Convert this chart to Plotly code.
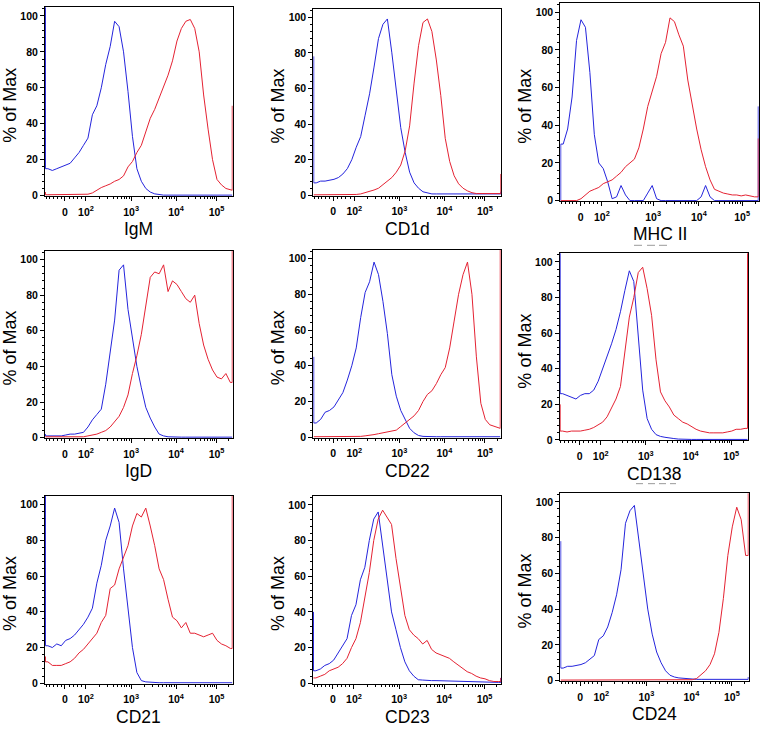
import math
import plotly.graph_objects as go

# ---------------- data (display units: decade-like biexponential axis) ----------------
MARKERS = ["IgM", "CD1d", "MHC II", "IgD", "CD22", "CD138", "CD21", "CD23", "CD24"]

BINS = [1.2, 1.3, 1.4, 1.5, 1.6, 1.7, 1.8, 1.9,
        2.0, 2.1, 2.2, 2.3, 2.4, 2.5, 2.6, 2.7, 2.8, 2.9,
        3.0, 3.1, 3.2, 3.3, 3.4, 3.5, 3.6, 3.7, 3.8, 3.9,
        4.0, 4.1, 4.2, 4.3, 4.4, 4.5, 4.6, 4.7, 4.8, 4.9,
        5.0, 5.1, 5.2, 5.3]
BINS_MHC = BINS + [5.4, 5.5]

TICK_TEXT = ["0", "10<sup>2</sup>", "10<sup>3</sup>", "10<sup>4</sup>", "10<sup>5</sup>"]
TICK_POS_STD = [1.584, 2.056, 3.07, 4.08, 4.99]
TICK_POS_MHC = [1.59, 2.07, 3.22, 4.25, 5.22]
Y_TICKS = [0, 20, 40, 60, 80, 100]

# values on BINS; edge values = [first (off-scale low) bin, last (off-scale high) bin]
IGM_BLUE = [15, 14, 15, 16, 17, 18, 21, 24,
            28, 32, 45, 50, 60, 73, 83, 97, 94, 80,
            58, 33, 15, 8, 4, 2, 1, 0.5, 0.3, 0.3,
            0.3, 0.3, 0.3, 0.3, 0.3, 0.3, 0.3, 0.3, 0.3, 0.3,
            0.3, 0.3, 0.3, 0.3]
IGM_BLUE_EDGE = [105, 0.3]
IGM_RED = [0.5, 0.5, 0.5, 0.5, 0.5, 0.5, 0.5, 0.5,
           0.5, 0.8, 1.5, 3, 4.5, 5.5, 6.5, 8, 9, 11,
           16, 19, 24, 28, 36, 43, 48, 54, 61, 67,
           75, 86, 93, 97, 98, 93, 80, 56, 37, 20,
           9, 6, 4, 3]
IGM_RED_EDGE = [2, 50]

CD1D_BLUE = [7, 8, 8, 8.5, 9, 10, 12, 15,
             20, 27, 33, 45, 57, 72, 88, 96, 99, 80,
             60, 38, 24, 13, 7, 4, 2, 1.2, 0.8, 0.8,
             0.8, 0.8, 0.8, 0.8, 0.8, 0.8, 0.8, 0.8, 0.8, 0.8,
             0.8, 0.8, 0.8, 0.8]
CD1D_BLUE_EDGE = [78, 2]
CD1D_RED = [0.3, 0.3, 0.3, 0.3, 0.3, 0.3, 0.3, 0.3,
            0.3, 0.5, 0.8, 1.5, 2, 3, 4, 6, 8, 10,
            13, 17, 25, 39, 63, 84, 97, 99, 92, 76,
            56, 32, 19, 11, 6.5, 4, 2.5, 1.5, 1, 1,
            1, 1, 1, 1]
CD1D_RED_EDGE = [0.3, 12]

MHC_BLUE = [30, 38, 55, 85, 96, 92, 68, 35,
            20, 17, 10, 1, 2, 8, 3, 0, 0, 0,
            0, 4, 8, 1, 0, 0, 0, 0, 0, 0,
            0, 0, 0, 2, 8, 2, 0, 0, 0, 0,
            0, 0, 0, 0, 0, 0]
MHC_BLUE_EDGE = [0, 50]
MHC_RED = [0, 0, 0, 0, 1, 3, 5, 6,
           7, 9, 10, 11, 13, 15, 18, 20, 22, 28,
           38, 50, 58, 66, 78, 84, 97, 95, 88, 82,
           64, 50, 38, 27, 18, 11, 6, 5, 4, 3.5,
           3, 3, 2.5, 3, 2.5, 2]
MHC_RED_EDGE = [0, 33]

IGD_BLUE = [1, 1, 1, 1, 1.5, 2, 2, 2.5,
            3, 6, 10, 13, 16, 30, 48, 66, 94, 97,
            72, 55, 40, 28, 17, 11, 6, 2, 1, 0.5,
            0.3, 0.3, 0.3, 0.3, 0.3, 0.3, 0.3, 0.3, 0.3, 0.3,
            0.3, 0.3, 0.3, 0.3]
IGD_BLUE_EDGE = [2, 0.3]
IGD_RED = [0.5, 0.5, 0.5, 0.5, 0.5, 0.5, 0.5, 0.5,
           0.5, 1, 1.5, 2, 3, 4, 6, 9, 12, 17,
           24, 36, 46, 58, 75, 90, 93, 92, 97, 82,
           88, 86, 82, 78, 76, 80, 64, 52, 44, 38,
           34, 33, 36, 31]
IGD_RED_EDGE = [0.5, 105]

CD22_BLUE = [8, 10, 14, 15, 17, 21, 25, 32,
             40, 50, 67, 81, 87, 98, 91, 76, 58, 35,
             23, 15, 10, 5, 2.5, 1, 0.5, 0.3, 0.3, 0.3,
             0.3, 0.3, 0.3, 0.3, 0.3, 0.3, 0.3, 0.3, 0.3, 0.3,
             0.3, 0.3, 0.3, 0.3]
CD22_BLUE_EDGE = [45, 0.3]
CD22_RED = [0.3, 0.3, 0.3, 0.3, 0.3, 0.3, 0.3, 0.3,
            0.3, 0.3, 0.5, 0.8, 1, 1.5, 2, 2.5, 3, 3.5,
            4, 6, 8, 10, 12, 15, 20, 24, 26, 30,
            35, 39, 50, 65, 80, 91, 98, 80, 45, 19,
            10, 7, 6, 5]
CD22_RED_EDGE = [0.3, 105]

CD138_BLUE = [26, 25, 24, 23, 25, 26, 26, 28,
              33, 40, 46, 54, 62, 72, 84, 95, 89, 56,
              28, 12, 6, 3, 2, 1.5, 1, 0.8, 0.5, 0.3,
              0.3, 0.3, 0.3, 0.3, 0.3, 0.3, 0.3, 0.3, 0.3, 0.3,
              0.3, 0.3, 0.3, 0.3]
CD138_BLUE_EDGE = [105, 0.3]
CD138_RED = [5, 4.5, 5, 5, 5, 5.5, 6, 7,
             8.5, 10, 13, 18, 23, 30, 50, 69, 80, 94,
             97, 85, 70, 45, 27, 22, 18.5, 14, 12, 10,
             9, 7.5, 6, 5, 4.5, 4, 4, 4, 4, 4.5,
             5, 6, 6, 6.5]
CD138_RED_EDGE = [20, 105]

CD21_BLUE = [21, 20, 22, 21, 24, 25, 27, 30,
             33, 37, 42, 56, 66, 80, 88, 98, 90, 64,
             42, 20, 6, 1.5, 0.8, 0.5, 0.3, 0.3, 0.3, 0.3,
             0.3, 0.3, 0.3, 0.3, 0.3, 0.3, 0.3, 0.3, 0.3, 0.3,
             0.3, 0.3, 0.3, 0.3]
CD21_BLUE_EDGE = [105, 0.3]
CD21_RED = [12, 10, 10, 10, 11, 12, 14, 17,
            19, 22, 25, 28, 34, 38, 53, 55, 64, 71,
            77, 88, 95, 93, 98, 88, 77, 64, 58, 47,
            37, 35, 31, 34, 28, 28, 27, 26, 27, 28,
            24, 22, 21, 19.5]
CD21_RED_EDGE = [15, 105]

CD23_BLUE = [7, 8, 10, 11, 13, 17, 21, 25,
             38, 44, 58, 65, 80, 92, 96, 77, 57, 40,
             30, 20, 12, 7, 4, 2, 1.8, 1.5, 1.5, 1.5,
             1.4, 1.3, 1.2, 1.2, 1, 1, 0.8, 0.8, 0.7, 0.6,
             0.5, 0.5, 0.5, 0.5]
CD23_BLUE_EDGE = [40, 3]
CD23_RED = [3, 4, 5, 7, 8, 9, 11, 14,
            20, 25, 34, 47, 62, 80, 92, 97, 93, 89,
            70, 53, 38, 30, 27, 25, 22, 24, 19, 17,
            16, 15, 14, 12, 10, 8, 6.5, 5.5, 4, 3,
            2.5, 1.5, 1, 1]
CD23_RED_EDGE = [3, 3]

CD24_BLUE = [7, 8, 8, 8.5, 9, 10, 12, 14,
             23, 25, 30, 38, 48, 62, 88, 95, 98, 78,
             58, 40, 26, 16, 10, 5.5, 3, 2, 1.5, 1.2,
             1, 0.7, 0.7, 0.7, 0.7, 0.7, 0.7, 0.7, 0.7, 0.7,
             0.7, 0.7, 0.7, 0.7]
CD24_BLUE_EDGE = [78, 2]
CD24_RED = [0.3, 0.3, 0.3, 0.3, 0.3, 0.3, 0.3, 0.3,
            0.3, 0.3, 0.3, 0.3, 0.3, 0.3, 0.3, 0.3, 0.3, 0.3,
            0.3, 0.3, 0.3, 0.3, 0.3, 0.3, 0.3, 0.3, 0.3, 0.3,
            0.3, 0.5, 1.2, 3.5, 5.5, 9, 15, 27, 46, 70,
            86, 97, 90, 70]
CD24_RED_EDGE = [0.3, 105]

SERIES = [
    (IGM_BLUE, IGM_BLUE_EDGE, IGM_RED, IGM_RED_EDGE),
    (CD1D_BLUE, CD1D_BLUE_EDGE, CD1D_RED, CD1D_RED_EDGE),
    (MHC_BLUE, MHC_BLUE_EDGE, MHC_RED, MHC_RED_EDGE),
    (IGD_BLUE, IGD_BLUE_EDGE, IGD_RED, IGD_RED_EDGE),
    (CD22_BLUE, CD22_BLUE_EDGE, CD22_RED, CD22_RED_EDGE),
    (CD138_BLUE, CD138_BLUE_EDGE, CD138_RED, CD138_RED_EDGE),
    (CD21_BLUE, CD21_BLUE_EDGE, CD21_RED, CD21_RED_EDGE),
    (CD23_BLUE, CD23_BLUE_EDGE, CD23_RED, CD23_RED_EDGE),
    (CD24_BLUE, CD24_BLUE_EDGE, CD24_RED, CD24_RED_EDGE),
]

# ---------------- layout ----------------
W, H = 763, 730
BLUE = "#2424dc"
RED = "#e42232"
FONT = "Liberation Sans, Arial, sans-serif"

# panel boxes in pixels: left, right, pixel-y of value 0, pixel-y of value 100
GEOM = [(45, 232.7, 197, 16), (313.3, 501.3, 196.7, 17.3), (560.3, 758.7, 202, 12.3),
        (45, 232.7, 440.7, 261.3), (313.3, 500.7, 440.3, 260.3), (559.7, 748, 443, 263.7),
        (45, 232.7, 688, 508), (313, 501.3, 688, 508.3), (560.3, 748.7, 685.3, 505.3)]
YMIN, YMAX = -0.3, 104.8
X0 = 1.135
PX_PER_U = 44.5


def minor_ticks(major, xend):
    vals = []
    z, d2 = major[0], major[1]
    for k in range(1, 6):
        vals.append(z - k * 0.085)
    for k in range(1, 5):
        vals.append(z + k * (d2 - z) / 5)
    dec = list(major[1:])
    dec.append(dec[-1] + (dec[-1] - dec[-2]))
    for a, b in zip(dec[:-1], dec[1:]):
        for m in range(2, 10):
            v = a + math.log10(m) * (b - a)
            if v < xend:
                vals.append(v)
    return [v for v in vals if X0 < v < xend]


fig = go.Figure()
annotations = []
for i, (name, (bv, be, rv, re), (l, r, y0, y100)) in enumerate(zip(MARKERS, SERIES, GEOM)):
    idx = i + 1
    xa = "x" if idx == 1 else f"x{idx}"
    ya = "y" if idx == 1 else f"y{idx}"
    bins = BINS_MHC if name == "MHC II" else BINS
    ticks = TICK_POS_MHC if name == "MHC II" else TICK_POS_STD
    s = (y0 - y100) / 100.0
    bottom = y0 - YMIN * s
    top = y0 - YMAX * s
    xend = X0 + (r - l) / PX_PER_U
    xl, xr = X0 + 0.01, xend - 0.01
    for vals, edge, col in ((bv, be, BLUE), (rv, re, RED)):
        fig.add_trace(go.Scatter(
            x=[xl, xl] + bins + [xr, xr],
            y=[edge[0], vals[0]] + vals + [vals[-1], edge[1]],
            mode="lines", line=dict(color=col, width=1),
            xaxis=xa, yaxis=ya, hoverinfo="skip", showlegend=False))
    axkey = "xaxis" if idx == 1 else f"xaxis{idx}"
    aykey = "yaxis" if idx == 1 else f"yaxis{idx}"
    fig.layout[axkey] = dict(
        domain=[l / W, r / W], anchor=ya, range=[X0, xend],
        showgrid=False, zeroline=False, showline=True, linecolor="black",
        linewidth=1, mirror=True, layer="below traces",
        ticks="outside", ticklen=4, tickwidth=1, tickcolor="black",
        tickvals=ticks, ticktext=[f"<b>{t}</b>" for t in TICK_TEXT],
        ticklabelstandoff=2,
        tickfont=dict(family=FONT, size=10.5, color="black"),
        minor=dict(tickvals=minor_ticks(ticks, xend), ticks="outside", ticklen=2,
                   tickcolor="black", tickwidth=1),
        fixedrange=True)
    fig.layout[aykey] = dict(
        domain=[1 - bottom / H, 1 - top / H], anchor=xa, range=[YMIN, YMAX],
        showgrid=False, zeroline=False, showline=True, linecolor="black",
        linewidth=1, mirror=True, layer="below traces",
        ticks="outside", ticklen=4, tickwidth=1, tickcolor="black",
        tickvals=Y_TICKS, ticktext=[f"<b>{t}</b>" for t in Y_TICKS],
        tickfont=dict(family=FONT, size=10.5, color="black"),
        minor=dict(dtick=4, ticks="outside", ticklen=2, tickcolor="black", tickwidth=1),
        fixedrange=True)
    annotations.append(dict(
        text="% of Max", xref="paper", yref="paper", textangle=-90,
        x=(l - 35) / W, y=1 - ((y0 + y100) / 2) / H, xanchor="center", yanchor="middle",
        showarrow=False, font=dict(family=FONT, size=18, color="black")))
    annotations.append(dict(
        text=name, xref="paper", yref="paper",
        x=((l + r) / 2) / W, y=1 - (y0 + 34) / H, xanchor="center", yanchor="middle",
        showarrow=False, font=dict(family=FONT, size=17.5, color="black")))

# faint dash remnants visible under two of the axis titles in the source image
shapes = []
for (xa_, xb_, yy) in [(634, 642, 247), (647, 655, 247), (659, 667, 247),
                       (636, 643, 487), (648, 655, 487), (659, 666, 487), (670, 676, 487)]:
    shapes.append(dict(type="line", xref="paper", yref="paper",
                       x0=xa_ / W, x1=xb_ / W, y0=1 - yy / H, y1=1 - yy / H,
                       line=dict(color="#9a9a9a", width=1)))

fig.update_layout(
    width=W, height=H, margin=dict(l=0, r=0, t=0, b=0),
    paper_bgcolor="white", plot_bgcolor="white",
    showlegend=False, annotations=annotations, shapes=shapes)

fig.write_html(
    "out.html",
    config={"displayModeBar": False},
    post_script="document.body.style.margin='0';document.body.style.padding='0';"
                "document.documentElement.style.overflow='hidden';")
